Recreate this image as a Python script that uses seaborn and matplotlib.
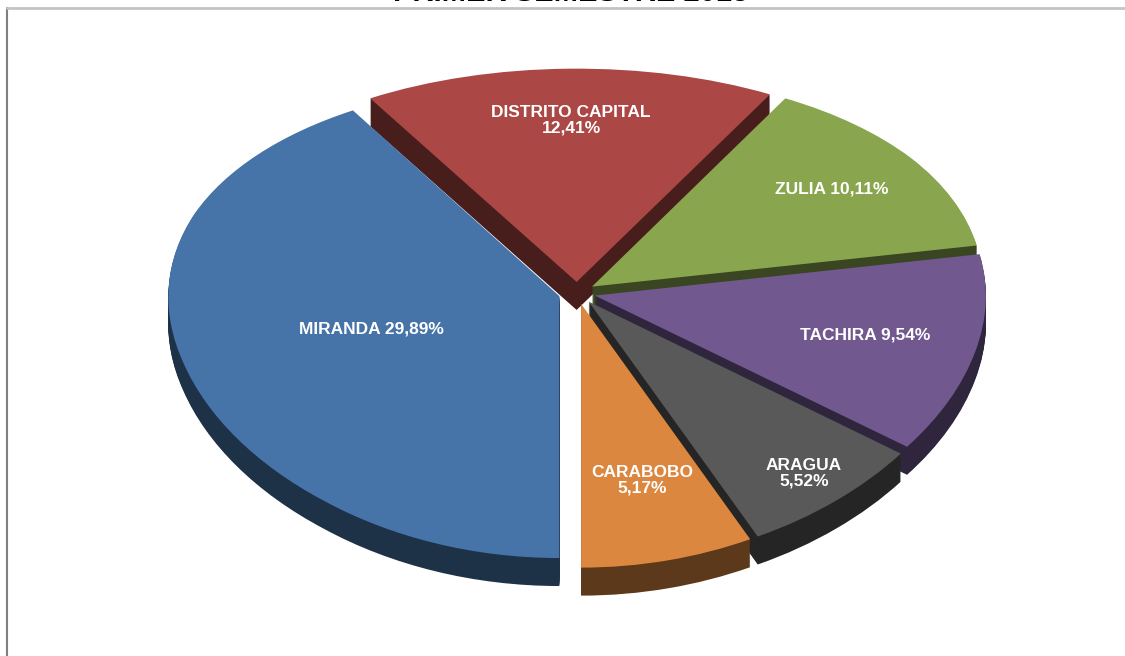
import numpy as np
import matplotlib
matplotlib.use("Agg")
import matplotlib.pyplot as plt
import matplotlib.transforms as mtransforms
from matplotlib.colors import to_rgb
from matplotlib.lines import Line2D
import seaborn as sns

# Participación por estado
estados = ["MIRANDA", "DISTRITO CAPITAL", "ZULIA", "TACHIRA", "ARAGUA", "CARABOBO"]
porcentajes = [29.89, 12.41, 10.11, 9.54, 5.52, 5.17]
colores = ["#4674A9", "#AB4744", "#89A54E", "#71588F", "#595959", "#DC873F"]
titulo = "PRIMER SEMESTRE 2013"

# Formato de cada etiqueta: separador entre nombre y valor, y distancia radial
separadores = [" ", "\n", " ", " ", "\n", "\n"]
radio_etiqueta = [0.50, 0.74, 0.75, 0.71, 0.87, 0.71]

sns.set_theme(style="white")
plt.rcParams["font.family"] = ["Liberation Sans", "DejaVu Sans"]

W, H, DPI = 1125, 656, 100
fig = plt.figure(figsize=(W / DPI, H / DPI), dpi=DPI)
ax = fig.add_axes([0, 0, 1, 1])

# Geometría del disco en píxeles (centro, radio horizontal, escala vertical)
CX, RX = 577.0, 391.0
CY, KY = 293.0, 236.0
PERSP = 0.0968          # inclinación: la parte trasera se ve más pequeña
PROFUNDIDAD = 28        # grosor del disco en píxeles
EXPLOTAR = 0.047
OSCURECER = 0.42


def adelante(y):
    return y / (1.0 + PERSP * y)


def atras(g):
    return g / (1.0 - PERSP * g)


paleta = sns.color_palette(colores)
laterales = [tuple(np.array(to_rgb(c)) * OSCURECER) for c in paleta]
explode = [EXPLOTAR] * len(porcentajes)


def dibujar_capa(cols, desplazamiento_px):
    cuñas, _ = ax.pie(porcentajes, explode=explode, colors=cols,
                      startangle=270, counterclock=False, radius=1.0,
                      wedgeprops=dict(linewidth=0, antialiased=True))
    if desplazamiento_px:
        tr = ax.transData + mtransforms.ScaledTranslation(
            0, -desplazamiento_px / DPI, fig.dpi_scale_trans)
        for c in cuñas:
            c.set_transform(tr)
    return cuñas


# Paredes laterales: capas oscuras apiladas hacia abajo
for d in range(PROFUNDIDAD, 0, -1):
    dibujar_capa(laterales, d)

# Cara superior
cuñas = dibujar_capa(paleta, 0)

for cuña, nombre, valor, sep, r in zip(cuñas, estados, porcentajes,
                                         separadores, radio_etiqueta):
    ang = np.deg2rad((cuña.theta1 + cuña.theta2) / 2.0)
    x0, y0 = cuña.center
    texto = f"{nombre}{sep}{valor:.2f}%".replace(".", ",")
    ax.text(x0 + r * np.cos(ang), y0 + r * np.sin(ang), texto,
            ha="center", va="center", color="white", fontsize=12.5,
            fontweight="bold", linespacing=1.05)

ax.set_aspect("auto")
ax.set_yscale("function", functions=(adelante, atras))
ax.set_xlim((0 - CX) / RX, (W - CX) / RX)
ax.set_ylim(atras(-(H - CY) / KY), atras(CY / KY))
ax.axis("off")

fig.text(571 / W, 1 - 1.0 / H, titulo, ha="center", va="baseline",
         fontsize=21, fontweight="bold", color="black")

# Marco del área del gráfico
fig.add_artist(Line2D([7 / W, 7 / W], [0, 1 - 8 / H], color="#808080",
                      lw=1.5, transform=fig.transFigure))
fig.add_artist(Line2D([7 / W, 1], [1 - 8 / H, 1 - 8 / H], color="#C4C4C4",
                      lw=2, transform=fig.transFigure))

fig.savefig("out.png", dpi=DPI, facecolor="white")
